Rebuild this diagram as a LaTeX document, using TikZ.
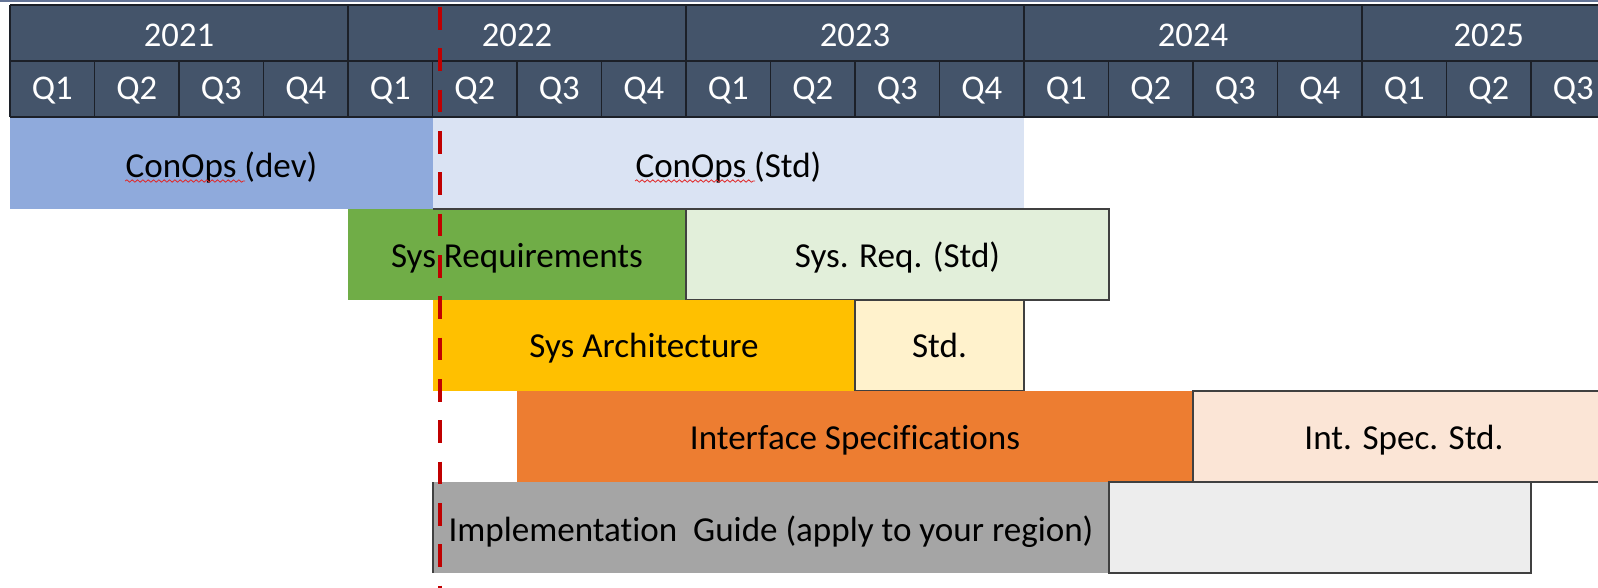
\documentclass[tikz,border=0pt]{standalone}
\usepackage{fontspec}
\setmainfont{Carlito}[Ligatures=CommonOff]
\usetikzlibrary{decorations.pathmorphing}

\begin{document}
\begin{tikzpicture}[x=0.75pt,y=0.75pt,yscale=-1,xscale=1,
    headcell/.style={fill={rgb, 255:red, 68; green, 84; blue, 106}},
    headline/.style={draw={rgb, 255:red, 28; green, 32; blue, 40}, line width=1.1pt},
    headtext/.style={text=white, font=\fontsize{26}{30}\selectfont, anchor=base, inner sep=0.75pt},
    bartext/.style={text=black, font=\fontsize{26.3}{30}\selectfont, anchor=base, inner sep=0.75pt},
    stdedge/.style={draw={rgb, 255:red, 64; green, 64; blue, 64}, line width=1.1pt},
    spellmark/.style={draw={rgb, 255:red, 225; green, 40; blue, 40}, line width=0.6pt, decorate, decoration={snake, amplitude=0.9, segment length=4}}
]
\useasboundingbox (0,0) rectangle (1598,588);
\begin{scope}
\clip (0,0) rectangle (1598,588);

%Straight Lines [top edge]
\draw [color={rgb, 255:red, 100; green, 116; blue, 150}, line width=1.5pt] (0,1) -- (1598,1) ;

%Shape: Rectangle [header]
\draw [headcell] (10,5) -- (1615.5,5) -- (1615.5,117) -- (10,117) -- cycle ;
\draw [headline] (10,5) -- (1615.5,5) (10,61) -- (1615.5,61) (10,117) -- (1615.5,117) (10,5) -- (10,117) ;
%year and quarter dividers
\foreach \q in {1,...,18} {
  \pgfmathtruncatemacro\yq{mod(\q,4)==0 ? 5 : 61}
  \draw [headline] ({10+84.5*\q},\yq) -- ({10+84.5*\q},117) ;
}
% Text Node
\draw (179,47) node [headtext] (y2021) {2021};
% Text Node
\draw (517,47) node [headtext] (y2022) {2022};
% Text Node
\draw (855,47) node [headtext] (y2023) {2023};
% Text Node
\draw (1193,47) node [headtext] (y2024) {2024};
% Text Node
\draw (1488.75,47) node [headtext] (y2025) {2025};
%quarters
\foreach \q in {0,...,18} {
  \pgfmathtruncatemacro\qn{mod(\q,4)+1}
  \draw ({52.25+84.5*\q},100) node [headtext] (q\q) {Q\qn};
}

%Shape: Rectangle [ConOps]
\draw [fill={rgb, 255:red, 143; green, 170; blue, 220}, draw=none] (10,118) -- (433,118) -- (433,209) -- (10,209) -- cycle ;
\draw [fill={rgb, 255:red, 218; green, 227; blue, 243}, draw=none] (433,118) -- (1024,118) -- (1024,209) -- (433,209) -- cycle ;
%Shape: Rectangle [Sys requirements]
\draw [fill={rgb, 255:red, 112; green, 173; blue, 71}, draw=none] (348,209) -- (686,209) -- (686,300) -- (348,300) -- cycle ;
\draw [fill={rgb, 255:red, 226; green, 239; blue, 218}, stdedge] (686,209) -- (1109,209) -- (1109,300) -- (686,300) -- cycle ;
%Shape: Rectangle [Sys architecture]
\draw [fill={rgb, 255:red, 255; green, 192; blue, 0}, draw=none] (433,300) -- (855,300) -- (855,391) -- (433,391) -- cycle ;
\draw [fill={rgb, 255:red, 255; green, 242; blue, 204}, stdedge] (855,300) -- (1024,300) -- (1024,391) -- (855,391) -- cycle ;
%Shape: Rectangle [Interface]
\draw [fill={rgb, 255:red, 237; green, 125; blue, 49}, draw=none] (517,391) -- (1193,391) -- (1193,482) -- (517,482) -- cycle ;
\draw [fill={rgb, 255:red, 251; green, 229; blue, 214}, stdedge] (1193,391) -- (1615.5,391) -- (1615.5,482) -- (1193,482) -- cycle ;
%Shape: Rectangle [Implementation]
\draw [fill={rgb, 255:red, 165; green, 165; blue, 165}, draw=none] (433,482) -- (1109,482) -- (1109,573) -- (433,573) -- cycle ;
\draw [fill={rgb, 255:red, 237; green, 237; blue, 237}, stdedge] (1109,482) -- (1531,482) -- (1531,573) -- (1109,573) -- cycle ;
%edges
\draw [stdedge] (433,209) -- (1024,209) ;
\draw [stdedge] (433,482) -- (433,573) ;

% Text Node
\draw (221.5,177) node [bartext] (conopsdev) {ConOps (dev)};
% Text Node
\draw (728.5,177) node [bartext] (conopsstd) {ConOps (Std)};
% Text Node
\draw (517,267) node [bartext] (sysreq) {Sys Requirements};
% Text Node
\draw (897.5,267) node [bartext] (sysreqstd) {Sys. Req. (Std)};
% Text Node
\draw (644,357) node [bartext] (sysarch) {Sys Architecture};
% Text Node
\draw (939.5,357) node [bartext] (sysarchstd) {Std.};
% Text Node
\draw (855,449) node [bartext] (intspec) {Interface Specifications};
% Text Node
\draw (1404,449) node [bartext] (intspecstd) {Int. Spec. Std.};
% Text Node
\draw (771,541) node [bartext] (implguide) {Implementation\ \ Guide (apply to your region)};

%spelling marks
\draw [spellmark] (conopsdev.base west) ++(0.75,4) -- ++(120,0) ;
\draw [spellmark] (conopsstd.base west) ++(0.75,4) -- ++(120,0) ;

%Straight Lines [today]
\coordinate (nowtop) at (440,7) ;
\coordinate (nowbottom) at (440,588) ;
\draw [color={rgb, 255:red, 192; green, 0; blue, 0}, line width=3pt, dash pattern=on 17pt off 14pt] (nowtop) -- (nowbottom) ;
\end{scope}
\end{tikzpicture}
\end{document}
